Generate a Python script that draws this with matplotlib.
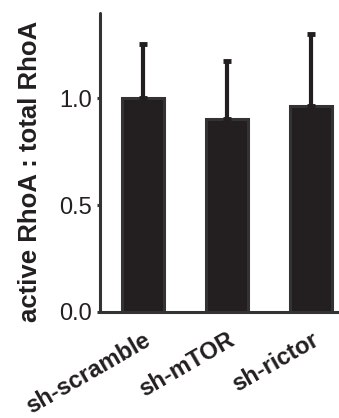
import numpy as np
import matplotlib
matplotlib.use('Agg')
import matplotlib.pyplot as plt

# datos
groups = ['sh-scramble', 'sh-mTOR', 'sh-rictor']
ratio = [1.00, 0.905, 0.964]
err_up = [0.254, 0.271, 0.338]
yticks = [0.0, 0.5, 1.0]

plt.rcParams['font.family'] = ['Liberation Sans', 'DejaVu Sans']

fig = plt.figure(figsize=(3.39, 4.18), dpi=100)
ax = fig.add_axes([0.295, 0.2536, 0.705, 0.7154])

x = np.arange(len(groups))
ax.bar(x, ratio, width=0.5, color='#231f20', edgecolor='#333333', linewidth=2.2, zorder=2)
ax.errorbar(x, ratio, yerr=[np.zeros(len(err_up)), err_up], fmt='none',
            ecolor='#231f20', elinewidth=3, capsize=3, capthick=3.5, zorder=3)

ax.set_xlim(-0.51, 2.33)
ax.set_ylim(0, 1.40)
ax.set_yticks(yticks)
ax.set_yticklabels([f'{v:.1f}' for v in yticks], fontsize=17, color='#231f20')
ax.set_xticks(x)
ax.set_xticklabels(groups, fontsize=17, fontweight='bold', rotation=30,
                   ha='right', va='top', rotation_mode='anchor', color='#231f20')
ax.set_ylabel('active RhoA : total RhoA', fontsize=18.5, fontweight='bold',
              color='#231f20')
ax.yaxis.set_label_coords(-0.243, 0.47)

for s in ['top', 'right']:
    ax.spines[s].set_visible(False)
for s in ['left', 'bottom']:
    ax.spines[s].set_linewidth(2.2)
    ax.spines[s].set_color('#333333')
    ax.spines[s].set_capstyle('round')
ax.tick_params(axis='y', length=2, width=2.2, color='#333333', pad=4)
ax.tick_params(axis='x', length=0, pad=12)

plt.savefig('out.png', dpi=100)
plt.close()
